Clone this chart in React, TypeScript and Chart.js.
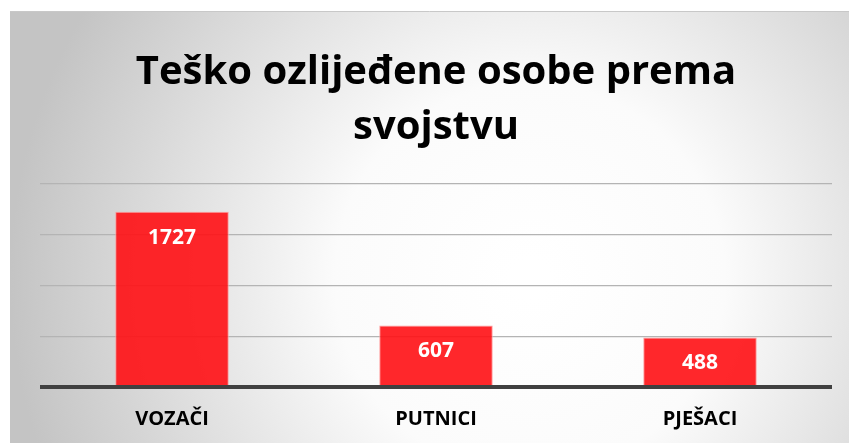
import React, { useEffect, useRef } from "react";
import { Chart, registerables } from "chart.js";

Chart.register(...registerables);

const categories = ["VOZAČI", "PUTNICI", "PJEŠACI"];
const values = [1727, 607, 488];
const titleLines = ["Teško ozlijeđene osobe prema", "svojstvu"];
const yMax = 2000;
const yStep = 500;

const FONT = "'Open Sans', 'Lato', sans-serif";

const bgPlugin = {
  id: "bgPlugin",
  beforeDraw(chart: any) {
    const { ctx, width, height } = chart;
    ctx.save();
    const g = ctx.createRadialGradient(width * 0.62, height * 0.62, 20, width * 0.62, height * 0.62, width * 0.62);
    g.addColorStop(0, "#ffffff");
    g.addColorStop(0.35, "#fbfbfb");
    g.addColorStop(1, "#c4c4c4");
    ctx.fillStyle = g;
    ctx.fillRect(0, 0, width, height);
    ctx.strokeStyle = "#c8c8c8";
    ctx.lineWidth = 1;
    ctx.beginPath();
    ctx.moveTo(0, 0.5);
    ctx.lineTo(width, 0.5);
    ctx.stroke();
    ctx.restore();
  },
};

const valueLabels = {
  id: "valueLabels",
  afterDatasetsDraw(chart: any) {
    const { ctx } = chart;
    const meta = chart.getDatasetMeta(0);
    ctx.save();
    ctx.fillStyle = "#ffffff";
    ctx.font = `bold 21px ${FONT}`;
    ctx.textAlign = "center";
    ctx.textBaseline = "middle";
    meta.data.forEach((el: any, i: number) => {
      ctx.fillText(String(values[i]), el.x, el.y + 26);
    });
    ctx.restore();
  },
};

export default function App() {
  const ref = useRef<HTMLCanvasElement>(null);
  useEffect(() => {
    const chart = new Chart(ref.current!, {
      type: "bar",
      data: {
        labels: categories,
        datasets: [
          {
            data: values,
            backgroundColor: "rgba(255, 16, 20, 0.9)",
            borderColor: "rgba(255, 150, 150, 0.9)",
            borderWidth: 1,
            barPercentage: 0.43,
            categoryPercentage: 1,
          },
        ],
      },
      options: {
        responsive: false,
        animation: false,
        layout: { padding: { left: 30, right: 17, top: 0, bottom: 0 } },
        plugins: {
          legend: { display: false },
          tooltip: { enabled: false },
          title: {
            display: true,
            text: titleLines,
            color: "#000000",
            font: { family: FONT, size: 40, weight: "bold", lineHeight: 1.375 },
            padding: { top: 34, bottom: 29 },
          },
        },
        scales: {
          x: {
            grid: { display: false, drawTicks: false },
            border: { display: false },
            ticks: {
              color: "#000000",
              font: { family: FONT, size: 20, weight: "bold" },
              padding: 20,
            },
            afterFit(scale: any) {
              scale.height = 56;
            },
          },
          y: {
            min: 0,
            max: yMax,
            ticks: { display: false, stepSize: yStep },
            border: { display: false },
            grid: {
              drawTicks: false,
              color: (c: any) => (c.tick && c.tick.value === 0 ? "#404040" : "#b4b4b4"),
              lineWidth: (c: any) => (c.tick && c.tick.value === 0 ? 4 : 1.3),
            },
          },
        },
      },
      plugins: [bgPlugin, valueLabels],
    });
    return () => chart.destroy();
  }, []);
  return (
    <div style={{ position: "absolute", left: 10, top: 11 }}>
      <canvas ref={ref} width={839} height={432} style={{ display: "block" }} />
    </div>
  );
}
